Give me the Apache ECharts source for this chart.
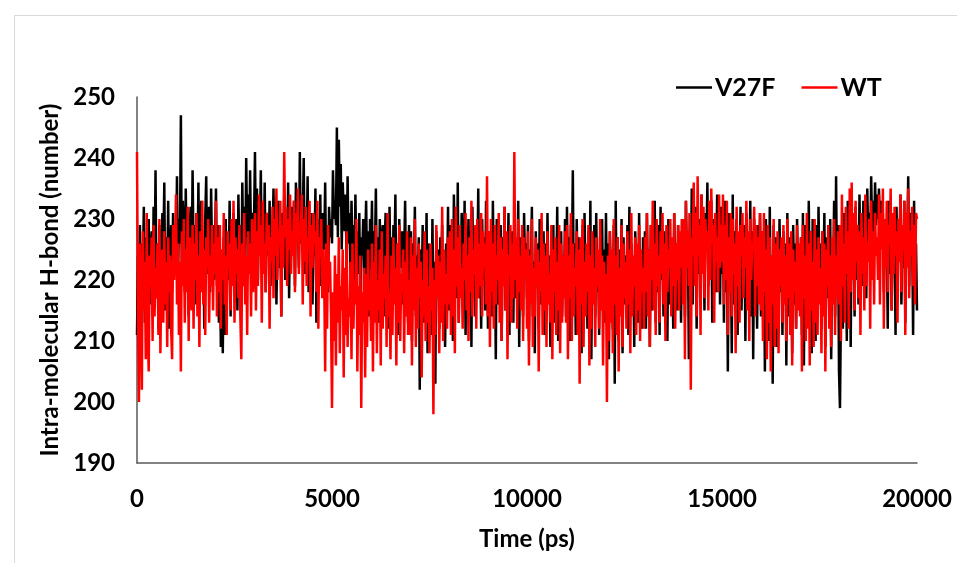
<!DOCTYPE html>
<html>
<head>
<meta charset="utf-8">
<script src="https://cdn.jsdelivr.net/npm/echarts@6/dist/echarts.min.js"></script>
<style>html,body{margin:0;padding:0;background:#fff;}#c{width:957px;height:563px;}</style>
</head>
<body>
<div id="c"></div>
<script>
// Sampling step of the trajectory (ps)
const timeStep = 25;
const xTicks = [0, 5000, 10000, 15000, 20000];
const yTicks = [190, 200, 210, 220, 230, 240, 250];
const seriesNames = ['V27F', 'WT'];

const v27f = [
211,224,218,229,215,226,221,232,213,227,219,225,230,216,223,228,214,232,220,238,
217,226,212,229,222,218,231,224,236,215,227,220,233,212,225,229,218,231,221,226,
223,237,219,230,226,247,221,233,228,218,235,224,230,214,227,232,220,238,225,229,
216,231,223,236,219,228,233,222,226,212,230,237,221,227,232,218,235,224,229,220,
226,235,219,229,213,225,209,222,208,227,211,230,216,224,220,233,214,228,222,231,
218,226,230,215,234,223,229,219,236,225,232,221,240,227,234,223,238,226,231,224,
229,241,224,235,220,232,227,238,222,230,225,236,218,231,228,224,233,219,229,226,
235,221,230,216,227,233,222,229,214,231,226,234,220,228,223,236,217,230,225,232,
224,233,219,236,227,230,222,241,226,234,229,240,221,232,225,237,218,229,223,231,
216,228,224,235,213,227,230,222,234,219,231,226,225,236,221,229,218,232,227,230,
226,238,230,233,229,245,227,243,232,239,225,236,231,228,234,222,237,226,231,219,
233,225,229,217,234,223,228,221,231,215,227,224,230,218,226,233,221,228,214,230,
222,233,216,228,224,235,219,227,213,230,221,225,229,214,226,231,218,224,212,232,
220,227,215,229,223,234,217,226,211,230,222,225,228,216,224,233,219,227,213,229,
218,228,210,226,221,232,214,224,219,227,202,225,216,229,213,222,220,231,208,226,
217,224,211,230,215,223,203,228,219,225,212,227,221,229,214,224,209,226,218,232,
215,229,221,226,210,234,223,228,217,236,213,225,220,231,224,218,233,211,227,222,
230,216,228,209,232,219,226,214,229,221,235,217,224,212,230,220,227,215,233,223,
212,228,220,225,214,233,219,226,207,230,216,224,221,229,210,227,223,232,215,225,
218,231,211,226,222,228,213,230,217,224,220,233,209,227,219,225,214,231,222,226,
217,229,210,225,221,232,214,223,208,228,219,226,212,230,216,224,220,228,211,226,
215,231,218,224,209,227,222,229,213,225,217,232,210,226,220,228,214,224,218,230,
214,232,218,227,210,229,222,238,216,226,211,230,219,227,221,224,208,229,215,231,
219,225,212,228,217,233,207,226,220,229,214,231,218,224,211,227,222,230,216,225,
213,231,217,226,207,228,221,224,212,229,203,233,215,227,210,225,219,230,208,227,
216,224,220,229,211,232,214,226,218,223,209,228,221,225,213,231,217,224,212,227,
219,228,212,231,217,225,209,229,215,227,221,233,213,226,218,229,211,232,220,226,
214,228,219,225,210,230,216,227,222,224,212,231,218,226,215,229,221,227,213,230,
219,230,214,233,223,228,207,231,220,235,216,229,224,232,212,227,221,230,217,234,
222,228,215,231,225,236,219,229,226,233,213,230,222,227,218,234,224,229,216,232,
221,229,213,233,218,227,205,231,220,226,208,234,216,228,223,230,211,227,219,232,
215,226,222,229,210,231,217,225,221,233,214,228,207,230,219,226,212,229,220,231,
214,228,219,225,205,230,217,226,210,232,216,224,203,229,221,227,209,225,215,230,
218,224,211,228,220,226,206,231,214,227,219,223,208,229,216,226,212,230,220,225,
218,227,211,231,206,229,220,225,213,233,216,228,208,230,222,226,210,229,214,232,
219,226,212,228,221,231,209,227,217,224,215,230,207,226,220,233,214,237,218,229,
205,199,215,227,212,231,221,226,210,233,218,229,209,230,223,227,214,232,220,228,
216,234,222,227,219,233,225,230,217,235,226,231,224,237,228,233,227,236,229,234,
230,235,228,233,226,231,218,229,224,227,212,233,221,228,215,230,224,226,211,232,
220,229,225,234,216,228,222,233,213,229,227,237,219,231,224,229,211,233,221,226,
215
];

const wt = [
241,214,200,226,218,202,228,215,223,207,231,212,205,224,219,227,210,229,214,222,
217,226,211,230,208,221,225,213,228,216,223,209,227,218,224,212,207,229,220,225,
234,216,226,211,223,205,228,219,230,213,225,218,232,210,227,221,215,229,212,226,
220,231,214,224,209,228,218,233,216,225,211,227,222,230,213,224,219,229,215,226,
221,233,214,227,218,229,212,225,220,231,216,224,211,228,222,226,215,230,219,233,
213,227,221,225,217,229,214,207,226,219,231,216,224,211,228,221,226,214,230,218,
222,231,215,228,219,234,224,229,213,233,221,226,218,231,225,229,212,227,223,232,
217,230,224,235,220,228,226,233,214,229,222,241,227,232,219,230,225,234,221,228,
224,233,218,231,226,235,221,229,228,234,216,230,223,232,219,227,225,233,214,229,
222,231,226,228,218,233,212,227,224,230,217,225,220,205,226,212,229,219,223,214,
199,218,210,224,206,221,213,227,208,219,215,225,204,222,211,228,209,217,214,223,
207,226,212,220,216,230,205,219,211,224,199,218,213,222,204,221,209,225,215,220,
210,226,205,223,213,229,208,220,215,225,206,228,212,221,217,224,209,231,214,218,
207,224,211,227,216,222,206,226,213,229,210,221,218,225,208,223,214,228,211,220,
211,227,206,224,215,230,209,222,212,226,217,223,204,220,214,228,210,225,213,219,
208,226,215,222,198,220,211,229,217,224,208,223,213,232,210,225,216,221,212,227,
216,228,211,230,214,225,208,232,219,227,213,229,217,222,212,226,220,231,215,224,
210,227,218,233,214,225,221,229,212,230,217,226,219,231,214,228,222,226,216,237,
214,228,209,230,218,226,212,229,216,224,220,231,213,227,210,225,219,232,215,228,
207,224,221,229,213,226,217,241,220,227,212,230,218,224,215,229,210,227,221,225,
212,228,206,224,216,230,209,222,214,227,219,225,205,223,218,231,211,226,215,224,
209,228,216,221,213,229,207,225,218,227,211,223,215,229,208,226,213,224,217,228,
213,229,207,224,217,231,210,226,214,222,219,228,211,225,203,227,216,230,209,223,
214,226,218,229,206,224,212,228,216,222,209,227,219,225,212,230,215,224,206,223,
215,221,200,224,210,228,213,225,208,230,216,224,211,227,205,222,214,229,209,226,
217,223,212,228,216,225,208,231,214,224,219,227,211,226,215,229,210,225,218,222,
212,227,218,231,214,225,209,229,220,233,215,226,211,230,219,224,213,228,221,231,
216,226,210,229,218,225,222,230,214,227,219,231,212,226,220,229,215,228,222,230,
216,230,207,233,222,228,219,231,202,227,224,236,219,231,214,237,224,229,211,234,
221,232,217,230,225,228,215,233,220,235,226,229,213,231,223,227,218,234,222,229,
223,234,216,229,220,233,211,227,218,231,214,230,221,226,208,232,219,228,213,229,
224,231,217,227,222,233,215,228,210,230,220,226,225,232,214,229,219,227,216,231,
215,228,210,231,218,225,207,229,213,227,205,224,216,230,209,226,212,228,208,225,
219,227,213,229,216,224,210,230,217,226,211,228,206,225,218,223,212,229,215,226,
214,227,205,229,217,224,210,231,212,226,206,228,215,223,209,230,213,225,211,227,
216,222,208,228,214,226,205,225,219,229,212,224,209,227,216,230,211,224,217,228,
216,229,210,234,219,226,213,232,221,228,212,235,218,236,220,231,215,233,223,229,
217,228,211,231,221,227,215,234,219,226,223,230,212,233,220,228,216,231,224,227,
220,234,216,231,225,235,212,230,222,233,218,229,226,235,215,231,221,232,224,228,
213,230,223,234,218,229,225,233,211,231,222,235,217,228,224,232,219,229,216,231,
230
];

const FONT = 'Lato';
const FS = 24;
function pairs(arr){ return arr.map((v,i)=>[i*timeStep, v]); }

const chart = echarts.init(document.getElementById('c'), null, {renderer:'canvas'});
chart.setOption({
  animation: false,
  backgroundColor: '#ffffff',
  graphic: [{
    type: 'rect', left: 12, top: 13, shape: {x:0, y:0, width: 980, height: 600},
    style: {fill: 'none', stroke: '#d9d9d9', lineWidth: 1}, silent: true, z: -1
  }],
  legend: {
    data: seriesNames,
    left: 671, top: 70,
    icon: 'rect', itemWidth: 36, itemHeight: 2.5, itemGap: 26,
    textStyle: {fontFamily: FONT, fontWeight: 'bold', fontSize: 25, color: '#000', padding: [0,0,0,-2]}
  },
  grid: {left: 137, right: 40, top: 97, bottom: 100},
  xAxis: {
    type: 'value', min: xTicks[0], max: xTicks[xTicks.length-1], interval: xTicks[1]-xTicks[0],
    name: 'Time (ps)', nameLocation: 'middle', nameGap: 64,
    nameTextStyle: {fontFamily: FONT, fontWeight: 'bold', fontSize: FS, color: '#000'},
    axisLine: {lineStyle: {color: '#595959', width: 1.5}},
    axisTick: {show: false},
    splitLine: {show: false},
    axisLabel: {fontFamily: FONT, fontWeight: 'bold', fontSize: FS, color: '#000', margin: 24,
      formatter: v => String(v)}
  },
  yAxis: {
    type: 'value', min: yTicks[0], max: yTicks[yTicks.length-1], interval: yTicks[1]-yTicks[0],
    name: 'Intra-molecular H-bond (number)', nameLocation: 'middle', nameGap: 68,
    nameTextStyle: {fontFamily: FONT, fontWeight: 'bold', fontSize: FS, color: '#000'},
    axisLine: {show: true, lineStyle: {color: '#595959', width: 1.5}},
    axisTick: {show: false},
    splitLine: {show: false},
    axisLabel: {fontFamily: FONT, fontWeight: 'bold', fontSize: FS, color: '#000', margin: 22,
      formatter: v => String(v)}
  },
  series: [
    {name: seriesNames[0], type: 'line', data: pairs(v27f), showSymbol: false, symbol: 'none',
     lineStyle: {color: '#000000', width: 2.5}, itemStyle: {color: '#000000'}},
    {name: seriesNames[1], type: 'line', data: pairs(wt), showSymbol: false, symbol: 'none',
     lineStyle: {color: '#ff0000', width: 2.5}, itemStyle: {color: '#ff0000'}}
  ]
});
</script>
</body>
</html>
